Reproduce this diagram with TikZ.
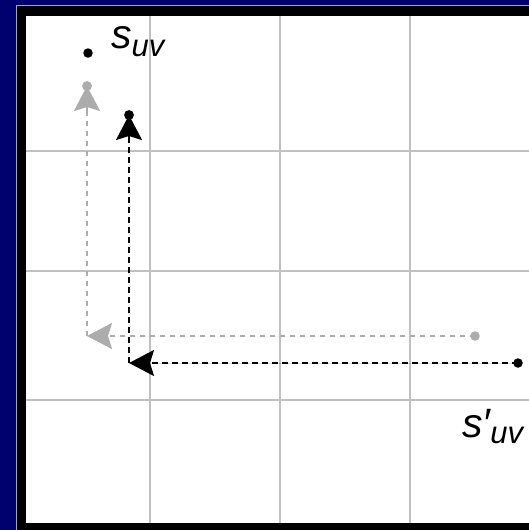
\documentclass[tikz,border=0pt]{standalone}
\usepackage{fontspec}
\setmainfont{Liberation Sans}
\usetikzlibrary{arrows.meta}
\definecolor{navybg}{RGB}{0,0,110}
\definecolor{gridgray}{RGB}{192,192,192}
\definecolor{arrgray}{RGB}{172,172,172}
\tikzset{
  gridline/.style={draw=gridgray, line width=2pt},
  blkpath/.style={draw=black, line width=1.8pt, dash pattern=on 6pt off 4pt},
  graypath/.style={draw=arrgray, line width=1.5pt, dash pattern=on 5pt off 5pt},
  blktip/.style={-{Stealth[length=25pt,width=26pt,inset=4pt]}},
  graytip/.style={-{Stealth[length=25pt,width=26pt,inset=4pt]}},
  blkdot/.style={circle, fill=black, inner sep=0pt, minimum size=9.5pt},
  graydot/.style={circle, fill=arrgray, inner sep=0pt, minimum size=9.5pt},
  lbl/.style={font=\fontsize{41}{41}\selectfont\itshape, inner sep=0pt}
}
\begin{document}
\begin{tikzpicture}[x=1pt,y=-1pt]
\useasboundingbox (0,0) rectangle (529,530);
\fill[navybg] (0,0) rectangle (529,530);
\filldraw[fill=black, draw=gray!70, line width=0.8pt] (16.5,5.5) rectangle (545,545);
\fill[white] (26,16) rectangle (545,523);
% grid
\foreach \gx in {150,280,410} \draw[gridline] (\gx,16) -- (\gx,523);
\foreach \gy in {151,271,400} \draw[gridline] (26,\gy) -- (529,\gy);
% points
\coordinate (gc) at (87,336);
\coordinate (bc) at (129,363);
\node[graydot] (gp) at (475,336) {};
\node[graydot] (gt) at (87,86) {};
\node[blkdot] (sp) at (518,363) {};
\node[blkdot] (bt) at (129,115) {};
\node[blkdot] (suv) at (88,53) {};
% gray path
\draw[graypath, graytip, draw=arrgray, fill=arrgray] (gp.center) -- (gc);
\draw[graypath] (gc) -- ([yshift=-24pt]gt.center);
\draw[draw=arrgray, line width=1.5pt, graytip, fill=arrgray] ([yshift=-26pt]gt.center) -- (gt.center);
% black path
\draw[blkpath, blktip, fill=black] (sp.center) -- (bc);
\draw[blkpath] (bc) -- ([yshift=-24pt]bt.center);
\draw[draw=black, line width=1.8pt, blktip, fill=black] ([yshift=-26pt]bt.center) -- (bt.center);
\node[graydot] at (gt) {};
\node[blkdot] at (bt) {};
% labels
\node[lbl, anchor=base west] (lsuv) at (111,48) {s\raisebox{-9pt}{\fontsize{31}{31}\selectfont uv}};
\node[lbl, anchor=base west] (lsp) at (462,437) {s′\raisebox{-6pt}{\fontsize{31}{31}\selectfont uv}};
\end{tikzpicture}
\end{document}
